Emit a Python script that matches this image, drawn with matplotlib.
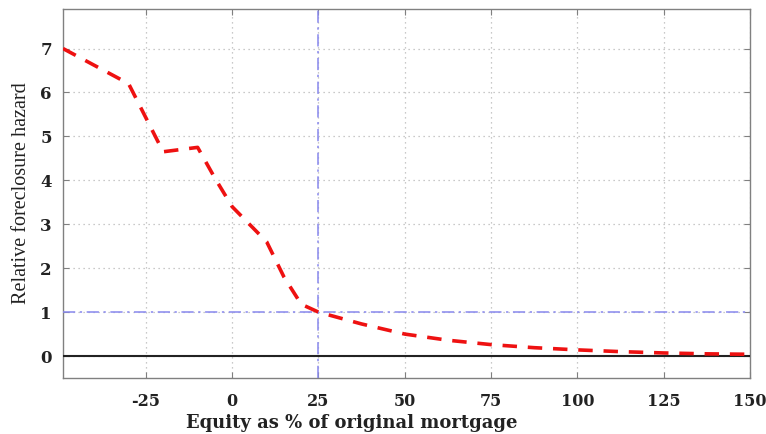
import matplotlib
matplotlib.use("Agg")
import matplotlib.pyplot as plt

plt.rcParams["axes.unicode_minus"] = False

equity = [-49, -30, -20, -10, -5, 0, 5, 10, 15, 20, 25, 37.5, 50, 62.5, 75, 87.5, 100, 112.5, 125, 137.5, 150]
hazard = [7.0, 6.2, 4.65, 4.75, 4.05, 3.4, 3.0, 2.6, 1.8, 1.18, 1.0, 0.73, 0.5, 0.36, 0.26, 0.19, 0.14, 0.10, 0.07, 0.05, 0.04]
xticks = [-25, 0, 25, 50, 75, 100, 125, 150]
yticks = [0, 1, 2, 3, 4, 5, 6, 7]
ref_x = 25
ref_y = 1

fig = plt.figure(figsize=(7.66, 4.34), dpi=100)
ax = fig.add_axes([63/766, 56/434, (750-63)/766, (378-9)/434])

ax.plot(equity, hazard, color="#ee1111", lw=2.6, ls=(0, (4, 3)), zorder=5)
ax.axhline(0, color="#222222", lw=1.5, zorder=4)
ax.axhline(ref_y, color="#8888ee", lw=1.1, ls=(0, (8, 3, 1.5, 3)), zorder=3)
ax.axvline(ref_x, color="#8888ee", lw=1.1, ls=(0, (8, 3, 1.5, 3)), zorder=3)

ax.set_xlim(-49, 150)
ax.set_ylim(-0.5, 7.9)
ax.set_xticks(xticks)
ax.set_yticks(yticks)
ax.grid(True, color="#b8b8b8", ls=(0, (1, 3)), lw=0.9)
for s in ax.spines.values():
    s.set_color("#808080")
    s.set_linewidth(1.0)
ax.tick_params(axis="x", direction="in", length=4, color="#808080", top=True,
               labelsize=11.5, pad=11)
ax.tick_params(axis="y", direction="in", length=4, color="#808080", right=True,
               labelsize=12, pad=8)
for lab in ax.get_xticklabels() + ax.get_yticklabels():
    lab.set_family("DejaVu Serif")
    lab.set_weight("bold")
    lab.set_color("#222222")
ax.set_xlabel("Equity as % of original mortgage", family="DejaVu Serif", fontsize=13,
              weight="bold", color="#222222")
ax.xaxis.set_label_coords(0.42, -0.097)
ax.set_ylabel("Relative foreclosure hazard", family="Liberation Serif", fontsize=14.5,
              color="#222222", labelpad=7)

fig.savefig("out.png", dpi=100)
